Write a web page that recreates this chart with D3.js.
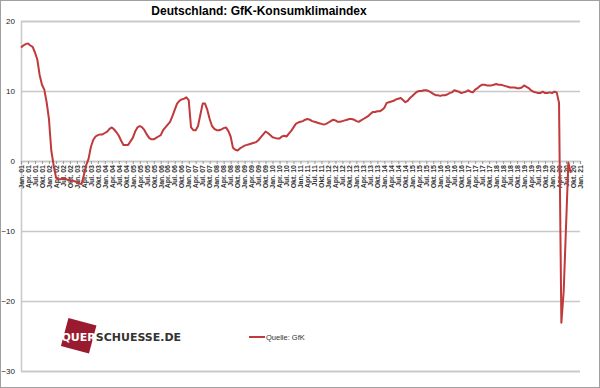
<!DOCTYPE html>
<html>
<head>
<meta charset="utf-8">
<script src="https://cdn.jsdelivr.net/npm/d3@7"></script>
<style>
  body { margin: 0; background: #fff; }
  text { font-family: "Liberation Sans", Arial, sans-serif; }
</style>
</head>
<body>
<div id="container"></div>
<script>
// monthly values, Jan 2001 .. Sep 2020
var startYear = 2001;
var konsumklima = [
  16.2, 16.5, 16.7, 16.8, 16.5, 16.3, 15.5, 14.5, 12.3, 10.9, 10.2, 8.4,   // 2001
  6.0, 1.5, -0.6, -2.3, -2.6, -2.6, -2.5, -2.5, -2.7, -2.7, -2.8, -2.9,    // 2002
  -3.0, -3.2, -3.3, -2.0, -0.6, 0.3, 2.0, 3.0, 3.5, 3.7, 3.8, 3.8,         // 2003
  4.0, 4.2, 4.6, 4.8, 4.5, 4.1, 3.6, 2.9, 2.3, 2.3, 2.3, 2.8,              // 2004
  3.3, 4.2, 4.8, 5.0, 4.8, 4.4, 3.8, 3.3, 3.1, 3.1, 3.3, 3.5,              // 2005
  3.7, 4.4, 4.8, 5.2, 5.6, 6.4, 7.3, 8.2, 8.6, 8.8, 8.9, 9.1,              // 2006
  8.7, 4.8, 4.4, 4.4, 5.0, 6.6, 8.2, 8.2, 7.3, 6.0, 5.0, 4.6,              // 2007
  4.4, 4.4, 4.5, 4.7, 4.8, 4.3, 3.5, 1.9, 1.6, 1.5, 1.8, 2.0,              // 2008
  2.2, 2.3, 2.4, 2.5, 2.6, 2.7, 3.0, 3.4, 3.8, 4.2, 4.0, 3.7,              // 2009
  3.4, 3.3, 3.2, 3.2, 3.5, 3.6, 3.5, 3.9, 4.3, 4.8, 5.3, 5.5,              // 2010
  5.6, 5.7, 5.9, 6.0, 5.9, 5.7, 5.6, 5.5, 5.4, 5.3, 5.2, 5.3,              // 2011
  5.5, 5.7, 5.9, 5.8, 5.6, 5.6, 5.7, 5.8, 5.9, 6.0, 6.0, 5.9,              // 2012
  5.7, 5.6, 5.8, 6.0, 6.2, 6.4, 6.7, 7.0, 7.0, 7.1, 7.1, 7.3,              // 2013
  7.6, 8.3, 8.4, 8.5, 8.6, 8.8, 8.9, 9.0, 8.7, 8.4, 8.6, 9.0,              // 2014
  9.3, 9.6, 9.9, 10.0, 10.0, 10.1, 10.1, 10.0, 9.8, 9.6, 9.4, 9.4,         // 2015
  9.3, 9.4, 9.4, 9.5, 9.7, 9.8, 10.1, 10.0, 9.9, 9.7, 9.8, 9.9,            // 2016
  10.1, 9.9, 9.8, 10.2, 10.4, 10.7, 10.9, 10.9, 10.8, 10.8, 10.8, 10.9,    // 2017
  11.0, 10.9, 10.9, 10.8, 10.7, 10.6, 10.5, 10.5, 10.5, 10.4, 10.4, 10.5,  // 2018
  10.8, 10.6, 10.4, 10.1, 9.9, 9.8, 9.7, 9.7, 9.9, 9.7, 9.7, 9.8,          // 2019
  9.7, 9.9, 9.8, 8.3, -23.1, -18.6, -9.4, -0.2, -1.7                       // 2020
];

var quarterNames = ["Jan.", "Apr.", "Jul.", "Okt."];
var tickYears = d3.range(2001, 2022);
var tickLabels = [];
tickYears.forEach(function(yr){
  quarterNames.forEach(function(q){
    if(tickLabels.length < 81) tickLabels.push(q + " " + String(yr).slice(2));
  });
});
var yTicks = [-30, -20, -10, 0, 10, 20];

var title = "Deutschland: GfK-Konsumklimaindex";
var legendLabel = "Quelle: GfK";

var W = 600, H = 388;
var lineColor = "#c0393b";
var gridColor = "#c8c8c8";

var svg = d3.select("#container").append("svg")
  .attr("width", W)
  .attr("height", H);

// outer frame
svg.append("rect")
  .attr("x", 0.5).attr("y", 0.5)
  .attr("width", W - 1).attr("height", H - 1)
  .attr("fill", "#fff")
  .attr("stroke", "#a0a0a0");

var x = d3.scaleLinear().domain([0, 240]).range([21, 580]);
var y = d3.scaleLinear().domain([-30, 20]).range([371, 21]);

// gridlines + y labels
var yAxis = d3.axisLeft(y)
  .tickValues(yTicks)
  .tickSize(-(580 - 21))
  .tickPadding(6);

var gy = svg.append("g")
  .attr("transform", "translate(21,0)")
  .call(yAxis);
gy.select(".domain").attr("stroke", gridColor).attr("stroke-width", 1.5);
gy.selectAll(".tick line").attr("stroke", gridColor).attr("stroke-width", 1.5);
gy.selectAll(".tick text")
  .attr("x", -6)
  .style("font-size", "8px")
  .style("font-family", "'Liberation Sans', Arial, sans-serif")
  .attr("fill", "#222");

// category axis at zero
var xAxis = d3.axisBottom(x)
  .tickValues(d3.range(0, 241, 3))
  .tickSize(3)
  .tickFormat(function(d){ return tickLabels[d / 3]; });

var gx = svg.append("g")
  .attr("transform", "translate(0," + y(0) + ")")
  .call(xAxis);
gx.select(".domain").attr("stroke", gridColor).attr("stroke-width", 1.5);
gx.selectAll(".tick line").attr("stroke", "#999");
gx.selectAll(".tick text")
  .attr("transform", "rotate(-90)")
  .attr("x", -4)
  .attr("y", 0)
  .attr("dy", "0.32em")
  .attr("text-anchor", "end")
  .style("font-size", "7px")
  .style("font-weight", "bold")
  .style("font-family", "'Liberation Sans', Arial, sans-serif")
  .attr("fill", "#333");

// data line
var valueline = d3.line()
  .x(function(d, i){ return x(i); })
  .y(function(d){ return y(d); });

svg.append("path")
  .attr("d", valueline(konsumklima))
  .attr("fill", "none")
  .attr("stroke", lineColor)
  .attr("stroke-width", 2)
  .attr("stroke-linejoin", "round");

// title
svg.append("text")
  .attr("x", 259)
  .attr("y", 15)
  .attr("text-anchor", "middle")
  .style("font-size", "12px")
  .style("font-weight", "bold")
  .attr("fill", "#000")
  .text(title);

// legend
svg.append("line")
  .attr("x1", 249).attr("x2", 265)
  .attr("y1", 337).attr("y2", 337)
  .attr("stroke", lineColor)
  .attr("stroke-width", 2);
svg.append("text")
  .attr("x", 266)
  .attr("y", 340)
  .style("font-size", "7.5px")
  .attr("fill", "#333")
  .text(legendLabel);

// logo
var logo = svg.append("g");
logo.append("rect")
  .attr("x", -14.5).attr("y", -14.5)
  .attr("width", 29).attr("height", 29)
  .attr("fill", "#9a1b2f")
  .attr("transform", "translate(78.7,335.7) rotate(15)");
var logoText = logo.append("text")
  .attr("x", 61.5)
  .attr("y", 341)
  .style("font-family", "'DejaVu Sans', Verdana, sans-serif")
  .style("font-size", "11px")
  .style("font-weight", "bold");
logoText.append("tspan").attr("fill", "#fff").text("QUER");
logoText.append("tspan").attr("fill", "#333").text("SCHUESSE.DE");
</script>
</body>
</html>
